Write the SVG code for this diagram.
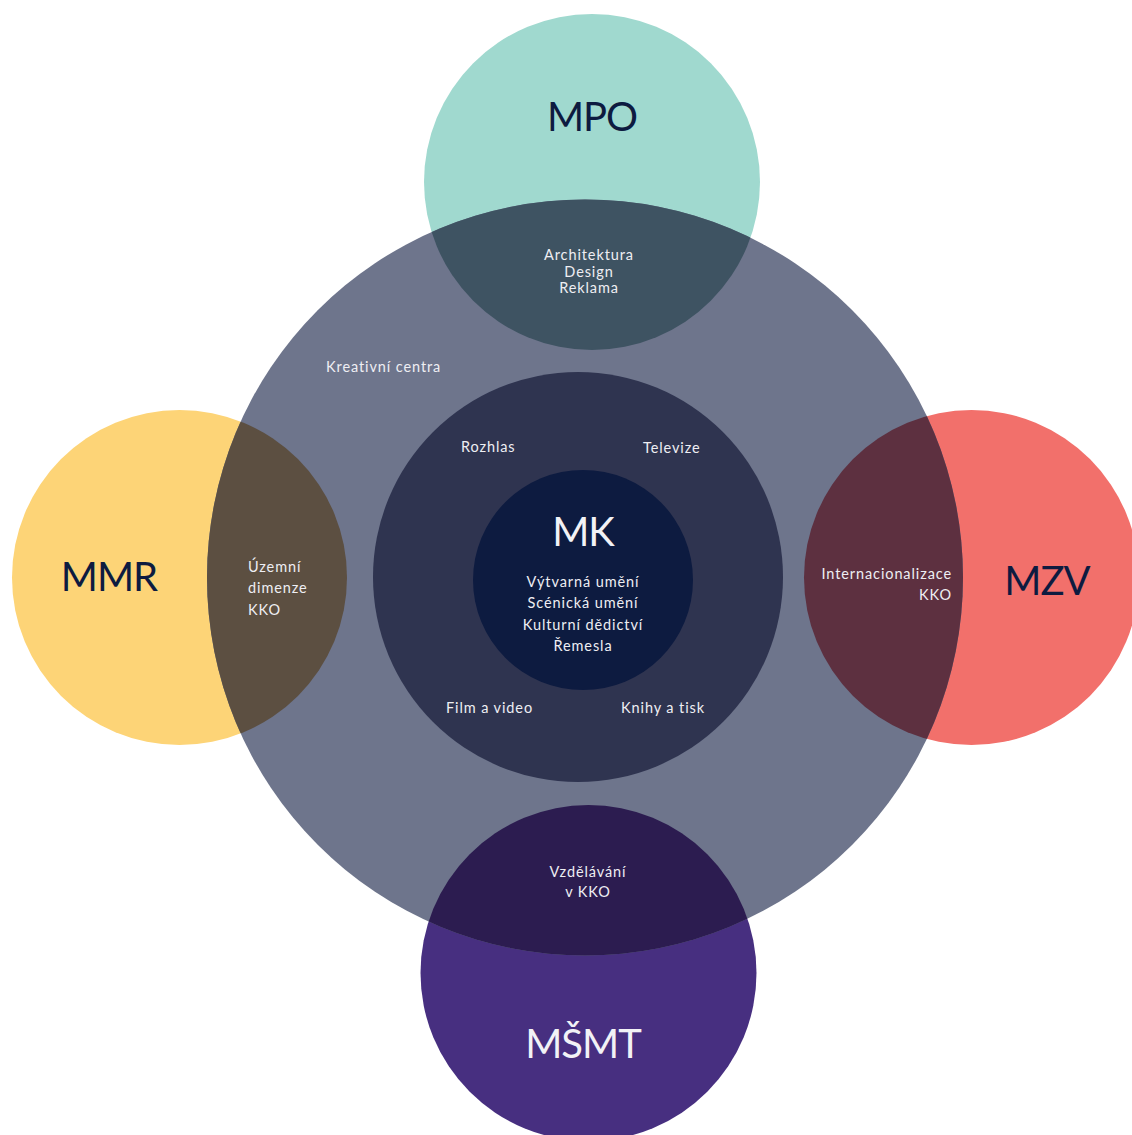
<svg xmlns="http://www.w3.org/2000/svg" width="1132" height="1135" viewBox="0 0 1132 1135">
<style>
  .big { font-family: Lato, "Liberation Sans", sans-serif; font-size: 40px; letter-spacing: -1px; text-anchor: middle; }
  .dark { fill: #0d1b40; }
  .light { fill: #f2f2f6; }
  .lbl { font-family: Lato, "Liberation Sans", sans-serif; font-size: 14.5px; letter-spacing: 0.9px; fill: #eeeef3; }
  .mid { text-anchor: middle; }
  .end { text-anchor: end; }
</style>
<defs>
  <clipPath id="bigClip"><circle cx="585" cy="577.5" r="378"/></clipPath>
</defs>
<rect width="1132" height="1135" fill="#ffffff"/>

<g id="mpo">
  <circle cx="592" cy="182" r="168" fill="#a0d9cf"/>
</g>
<g id="mmr">
  <circle cx="179.5" cy="577.5" r="167.5" fill="#fdd477"/>
</g>
<g id="mzv">
  <circle cx="971.5" cy="577.5" r="167.5" fill="#f2706b"/>
</g>
<g id="msmt">
  <circle cx="588.5" cy="973" r="168" fill="#472f80"/>
</g>

<g id="kreativni">
  <circle cx="585" cy="577.5" r="378" fill="#6e758c"/>
  <text class="lbl" x="326" y="372">Kreativní centra</text>
</g>

<g id="overlaps" clip-path="url(#bigClip)">
  <g id="mpo-overlap">
    <circle cx="592" cy="182" r="168" fill="#3e5362"/>
  </g>
  <g id="mmr-overlap">
    <circle cx="179.5" cy="577.5" r="167.5" fill="#5c4f41"/>
  </g>
  <g id="mzv-overlap">
    <circle cx="971.5" cy="577.5" r="167.5" fill="#5d3040"/>
  </g>
  <g id="msmt-overlap">
    <circle cx="588.5" cy="973" r="168" fill="#2c1c50"/>
  </g>
</g>

<g id="media">
  <circle cx="578" cy="577" r="205" fill="#2f3450"/>
  <text class="lbl" x="461" y="452">Rozhlas</text>
  <text class="lbl" x="643" y="453">Televize</text>
  <text class="lbl" x="446" y="713">Film a video</text>
  <text class="lbl" x="621" y="713">Knihy a tisk</text>
</g>

<g id="mk">
  <circle cx="583" cy="580" r="110" fill="#0d1b40"/>
  <text class="big light" x="583" y="546" font-size="37" letter-spacing="-1.5">MK</text>
  <text class="lbl mid" x="583" y="587">Výtvarná umění</text>
  <text class="lbl mid" x="583" y="608">Scénická umění</text>
  <text class="lbl mid" x="583" y="630">Kulturní dědictví</text>
  <text class="lbl mid" x="583" y="651">Řemesla</text>
</g>

<g id="labels-mpo">
  <text class="big dark" x="592" y="131">MPO</text>
  <text class="lbl mid" x="589" y="260">Architektura</text>
  <text class="lbl mid" x="589" y="277">Design</text>
  <text class="lbl mid" x="589" y="293">Reklama</text>
</g>
<g id="labels-mmr">
  <text class="big dark" x="109" y="591">MMR</text>
  <text class="lbl" x="248" y="572">Územní</text>
  <text class="lbl" x="248" y="593">dimenze</text>
  <text class="lbl" x="248" y="615">KKO</text>
</g>
<g id="labels-mzv">
  <text class="big dark" x="1047" y="595">MZV</text>
  <text class="lbl end" x="952" y="579">Internacionalizace</text>
  <text class="lbl end" x="952" y="600">KKO</text>
</g>
<g id="labels-msmt">
  <text class="big light" x="583" y="1058">MŠMT</text>
  <text class="lbl mid" x="588" y="877">Vzdělávání</text>
  <text class="lbl mid" x="588" y="897">v KKO</text>
</g>
<g id="connectors"></g>
</svg>
